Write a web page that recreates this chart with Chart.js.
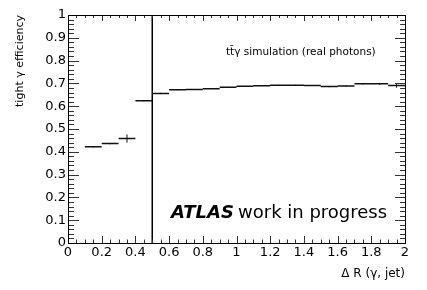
<!DOCTYPE html>
<html><head><meta charset="utf-8">
<script src="https://cdn.jsdelivr.net/npm/chart.js@4/dist/chart.umd.min.js"></script>
<style>html,body{margin:0;padding:0;background:#fff;}canvas{display:block;}</style>
</head><body>
<canvas id="c" width="427" height="290"></canvas>
<script>
// Bin edges in ΔR(γ, jet)
const binLow  = [0.1,0.2,0.3,0.4,0.5,0.6,0.7,0.8,0.9,1.0,1.1,1.2,1.3,1.4,1.5,1.6,1.7,1.8,1.9];
const binHigh = [0.2,0.3,0.4,0.5,0.6,0.7,0.8,0.9,1.0,1.1,1.2,1.3,1.4,1.5,1.6,1.7,1.8,1.9,2.0];
// tight photon efficiency and its statistical uncertainty
const efficiency      = [0.422,0.436,0.458,0.624,0.656,0.672,0.673,0.677,0.683,0.687,0.690,0.692,0.692,0.691,0.686,0.689,0.698,0.698,0.691];
const efficiencyError = [0.003,0.003,0.018,0.003,0.003,0.002,0.002,0.002,0.002,0.002,0.002,0.002,0.002,0.002,0.003,0.003,0.003,0.004,0.010];
// vertical marker at ΔR = 0.5
const cutLine = [0.5];
const xTickLabels = ['0','0.2','0.4','0.6','0.8','1','1.2','1.4','1.6','1.8','2'];
const yTickLabels = ['0','0.1','0.2','0.3','0.4','0.5','0.6','0.7','0.8','0.9','1'];

const horiz = [], vert = [];
for (let i = 0; i < efficiency.length; i++) {
  horiz.push({x: binLow[i], y: efficiency[i]}, {x: binHigh[i], y: efficiency[i]}, {x: binHigh[i], y: null});
  const c = (binLow[i] + binHigh[i]) / 2;
  vert.push({x: c, y: efficiency[i] - efficiencyError[i]}, {x: c, y: efficiency[i] + efficiencyError[i]}, {x: c, y: null});
}
const cut = [{x: cutLine[0], y: 0}, {x: cutLine[0], y: 1}];

const FONT = 'DejaVu Sans';

const rootAxes = {
  id: 'rootAxes',
  afterDatasetsDraw(chart) {
    const ctx = chart.ctx, xs = chart.scales.x, ys = chart.scales.y;
    const {left, right, top, bottom} = chart.chartArea;
    ctx.save();
    ctx.strokeStyle = '#333';
    ctx.lineWidth = 1;
    ctx.beginPath();
    for (let k = 0; k <= 40; k++) {
      const px = Math.round(xs.getPixelForValue(k * 0.05)) + 0.5;
      const major = k % 4 === 0;
      const Lb = major ? 7 : 3.5, Lt = major ? 6 : 3;
      ctx.moveTo(px, bottom); ctx.lineTo(px, bottom - Lb);
      ctx.moveTo(px, top); ctx.lineTo(px, top + Lt);
    }
    for (let k = 0; k <= 50; k++) {
      const py = Math.round(ys.getPixelForValue(k * 0.02)) + 0.5;
      const major = k % 5 === 0;
      const Ll = major ? 11 : 6, Lr = major ? 10 : 5;
      ctx.moveTo(left, py); ctx.lineTo(left + Ll, py);
      ctx.moveTo(right, py); ctx.lineTo(right - Lr, py);
    }
    ctx.stroke();
    ctx.strokeStyle = '#000';
    ctx.strokeRect(Math.round(left) + 0.5, Math.round(top) + 0.5, Math.round(right - left), Math.round(bottom - top));
    // annotations
    ctx.fillStyle = '#000';
    ctx.textBaseline = 'alphabetic';
    ctx.textAlign = 'left';
    ctx.font = '10.5px "' + FONT + '"';
    ctx.fillText('tt\u0304\u03b3 simulation (real photons)', 226, 55);
    ctx.font = 'italic bold 18px "' + FONT + '"';
    ctx.fillText('ATLAS', 171, 218);
    ctx.font = '18px "' + FONT + '"';
    ctx.fillText('work in progress', 238, 218);
    ctx.restore();
  }
};

new Chart(document.getElementById('c'), {
  type: 'scatter',
  data: {
    datasets: [
      {data: horiz, showLine: true, spanGaps: false, borderColor: '#111', borderWidth: 1.5, pointRadius: 0, pointHoverRadius: 0},
      {data: vert, showLine: true, spanGaps: false, borderColor: '#111', borderWidth: 1, pointRadius: 0, pointHoverRadius: 0},
      {data: cut, showLine: true, borderColor: '#000', borderWidth: 1.5, pointRadius: 0, pointHoverRadius: 0}
    ]
  },
  options: {
    responsive: false,
    animation: false,
    events: [],
    layout: {padding: {top: 15, right: 22, left: 0, bottom: 0}},
    plugins: {legend: {display: false}, tooltip: {enabled: false}},
    scales: {
      x: {
        type: 'linear', min: 0, max: 2,
        afterFit(s) { s.height = 47; },
        afterBuildTicks(s) { s.ticks = xTickLabels.map(t => ({value: parseFloat(t)})); },
        ticks: {callback: (v, i) => xTickLabels[i], padding: 2, color: '#000', font: {family: FONT, size: 13}, maxRotation: 0, autoSkip: false},
        grid: {display: false, drawTicks: false},
        border: {display: false},
        title: {display: true, text: '\u0394 R (\u03b3, jet)', align: 'end', color: '#000', font: {family: FONT, size: 12}, padding: {top: 0, bottom: 9}}
      },
      y: {
        type: 'linear', min: 0, max: 1,
        afterFit(s) { s.width = 68; },
        afterBuildTicks(s) { s.ticks = yTickLabels.map(t => ({value: parseFloat(t)})); },
        ticks: {callback: (v, i) => yTickLabels[i], padding: 2, color: '#000', font: {family: FONT, size: 13}, autoSkip: false},
        grid: {display: false, drawTicks: false},
        border: {display: false},
        title: {display: true, text: 'tight \u03b3 efficiency', align: 'end', color: '#000', font: {family: FONT, size: 11}, padding: {top: 14, bottom: 0}}
      }
    }
  },
  plugins: [rootAxes]
});
</script>
</body></html>
